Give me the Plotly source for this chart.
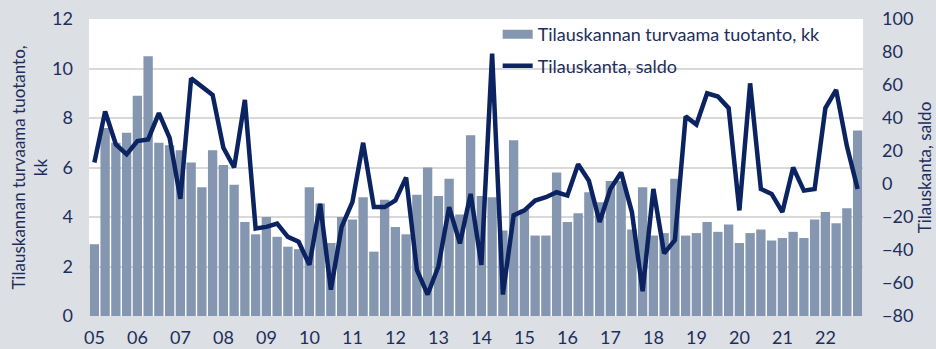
import plotly.graph_objects as go

# Quarterly data 2005Q1 - 2022Q4
quarters = list(range(72))
tick_positions = list(range(0, 72, 4))
tick_labels = [f"{y:02d}" for y in range(5, 23)]

# Production secured by order backlog, months (left axis)
backlog_months = [
    2.9, 7.6, 7.0, 7.4, 8.9, 10.5, 7.0, 6.9, 6.7, 6.2, 5.2, 6.7, 6.1, 5.3, 3.8, 3.3, 4.0, 3.2,
    2.8, 2.7, 5.2, 4.55, 2.95, 4.0, 3.9, 4.8, 2.6, 4.7, 3.6, 3.3, 4.9, 6.0, 4.85, 5.55, 4.1, 7.3,
    4.85, 4.8, 3.45, 7.1, 4.3, 3.25, 3.25, 5.8, 3.8, 4.15, 5.0, 4.6, 5.45, 5.45, 3.5, 5.2, 3.25, 3.35,
    5.55, 3.25, 3.35, 3.8, 3.4, 3.7, 2.95, 3.35, 3.5, 3.05, 3.15, 3.4, 3.15, 3.9, 4.2, 3.75, 4.35, 7.5,
]

# Order backlog balance figure (right axis)
backlog_balance = [
    13, 44, 24, 18, 26, 27, 43, 28, -9, 64, 59, 54, 22, 10, 51, -27, -26, -24,
    -32, -35, -49, -12, -64, -26, -11, 25, -14, -14, -10, 4, -52, -67, -50, -14, -36, -6,
    -49, 79, -67, -19, -16, -10, -8, -5, -7, 12, 2, -23, -3, 7, -17, -65, -3, -42,
    -34, 41, 36, 55, 53, 46, -16, 61, -3, -6, -17, 10, -4, -3, 46, 57, 23, -3,
]

BAR_COLOR = "#8597b0"
LINE_COLOR = "#0b2361"
TEXT_COLOR = "#1d2e5c"
BG_COLOR = "#dcdfe4"
FONT = "Lato, 'Open Sans', sans-serif"

fig = go.Figure()

fig.add_trace(go.Bar(
    x=quarters, y=backlog_months, name="Tilauskannan turvaama tuotanto, kk",
    marker=dict(color=BAR_COLOR, line=dict(width=0)),
    showlegend=False, yaxis="y",
))

# legend entry for the bars, drawn as a wide swatch
fig.add_trace(go.Scatter(
    x=[None], y=[None], mode="lines", name="Tilauskannan turvaama tuotanto, kk",
    line=dict(color=BAR_COLOR, width=9), legendgroup="a", yaxis="y",
))

fig.add_trace(go.Scatter(
    x=quarters, y=backlog_balance, mode="lines", name="Tilauskanta, saldo",
    line=dict(color=LINE_COLOR, width=4.5), legendgroup="b", yaxis="y2",
))

fig.update_layout(
    width=936, height=349,
    margin=dict(l=89, r=73, t=19, b=33, autoexpand=False),
    paper_bgcolor=BG_COLOR, plot_bgcolor="white",
    font=dict(family=FONT, size=18, color=TEXT_COLOR),
    bargap=0.13,
    showlegend=True,
    legend=dict(
        x=0.528, y=1.01, xanchor="left", yanchor="top",
        bgcolor="rgba(0,0,0,0)", font=dict(size=18, color=TEXT_COLOR),
        tracegroupgap=5, itemwidth=30,
    ),
    xaxis=dict(
        range=[-0.5, 71.5], tickmode="array", tickvals=tick_positions, ticktext=tick_labels,
        showgrid=False, zeroline=False, ticks="", showline=False, automargin=False,
        ticklabelstandoff=9, tickfont=dict(size=18, color=TEXT_COLOR),
    ),
    yaxis=dict(
        range=[0, 12], dtick=2, showgrid=True, gridcolor="#d9d9d9", gridwidth=2,
        zeroline=False, ticks="", ticklabelstandoff=15, automargin=False,
        tickfont=dict(size=18, color=TEXT_COLOR),
        title=dict(text="Tilauskannan turvaama tuotanto,<br>kk", standoff=0,
                   font=dict(size=17, color=TEXT_COLOR)),
    ),
    yaxis2=dict(
        range=[-80, 100], dtick=20, overlaying="y", side="right",
        showgrid=False, zeroline=False, ticks="", ticklabelstandoff=18, automargin=False,
        tickfont=dict(size=18, color=TEXT_COLOR),
        title=dict(text="Tilauskanta, saldo", standoff=6,
                   font=dict(size=17, color=TEXT_COLOR)),
    ),
)

fig.write_html("out.html")
